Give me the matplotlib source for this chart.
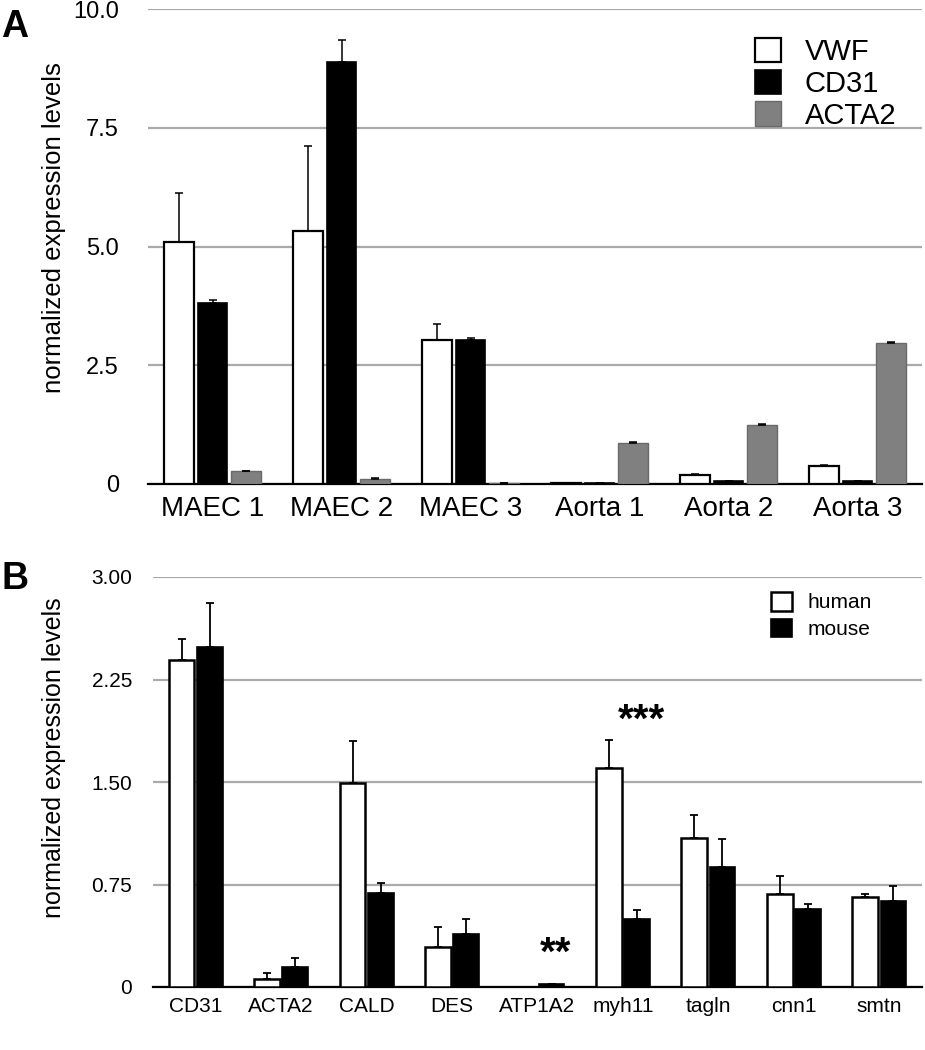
import numpy as np
import matplotlib
matplotlib.use("Agg")
import matplotlib.pyplot as plt

plt.rcParams['font.family'] = ['Liberation Sans', 'DejaVu Sans']

# ---- panel A data
samples_a = ['MAEC 1', 'MAEC 2', 'MAEC 3', 'Aorta 1', 'Aorta 2', 'Aorta 3']
vwf = [5.10, 5.32, 3.03, 0.02, 0.19, 0.38]
vwf_err = [1.04, 1.79, 0.35, 0.0, 0.03, 0.03]
cd31 = [3.82, 8.90, 3.03, 0.02, 0.07, 0.07]
cd31_err = [0.05, 0.45, 0.05, 0.0, 0.0, 0.0]
acta2 = [0.27, 0.10, 0.02, 0.87, 1.24, 2.97]
acta2_err = [0.0, 0.03, 0.0, 0.02, 0.03, 0.02]
yticks_a = [0, 2.5, 5.0, 7.5, 10.0]
yticklabels_a = ['0', '2.5', '5.0', '7.5', '10.0']

# ---- panel B data
genes_b = ['CD31', 'ACTA2', 'CALD', 'DES', 'ATP1A2', 'myh11', 'tagln', 'cnn1', 'smtn']
human = [2.39, 0.06, 1.49, 0.29, 0.0, 1.60, 1.09, 0.68, 0.66]
human_err = [0.16, 0.04, 0.31, 0.15, 0.0, 0.21, 0.17, 0.13, 0.02]
mouse = [2.49, 0.15, 0.69, 0.39, 0.02, 0.50, 0.88, 0.57, 0.63]
mouse_err = [0.32, 0.06, 0.07, 0.11, 0.005, 0.06, 0.20, 0.04, 0.11]
yticks_b = [0, 0.75, 1.50, 2.25, 3.00]
yticklabels_b = ['0', '0.75', '1.50', '2.25', '3.00']
stars = {4: '**', 5: '***'}   # gene index -> significance over mouse bar
star_y = {4: 0.24, 5: 1.95}

W, H = 925, 1050
fig = plt.figure(figsize=(W / 100, H / 100), dpi=100)


def style_axes(ax):
    for s in ['top', 'right', 'left']:
        ax.spines[s].set_visible(False)
    ax.spines['bottom'].set_linewidth(1.6)
    ax.yaxis.grid(True, color='#aaaaaa', linewidth=1.6)
    ax.set_axisbelow(True)
    ax.tick_params(axis='both', length=0)


def up_err(e):
    return [np.zeros(len(e)), e]


# ───────── Panel A
axA = fig.add_axes([148 / W, 1 - 484 / H, (922 - 148) / W, (484 - 9.3) / H])
style_axes(axA)
x = np.arange(len(samples_a))
bw, off = 0.23, 0.26
ekw = dict(ecolor='black', elinewidth=1.1, capsize=2.6, capthick=1.1)
axA.bar(x - off, vwf, bw, color='white', edgecolor='black', linewidth=1.6,
        yerr=up_err(vwf_err), error_kw=ekw, label='VWF', zorder=3)
axA.bar(x, cd31, bw, color='black', edgecolor='black', linewidth=1.2,
        yerr=up_err(cd31_err), error_kw=ekw, label='CD31', zorder=3)
axA.bar(x + off, acta2, bw, color='#808080', edgecolor='#6a6a6a', linewidth=1.0,
        yerr=up_err(acta2_err), error_kw=ekw, label='ACTA2', zorder=3)
axA.set_xlim(-0.5, len(samples_a) - 0.5)
axA.set_ylim(0, 10)
axA.set_yticks(yticks_a)
axA.set_yticklabels(yticklabels_a, fontsize=17)
axA.set_xticks(x)
axA.set_xticklabels(samples_a, fontsize=20)
axA.tick_params(axis='y', pad=21)
axA.tick_params(axis='x', pad=9)
axA.set_ylabel('normalized expression levels', fontsize=18.5)
axA.yaxis.set_label_coords((66 - 148) / (922 - 148), 0.54)
fig.legend(handles=axA.get_legend_handles_labels()[0], labels=['VWF', 'CD31', 'ACTA2'],
           loc='upper left', bbox_to_anchor=(755 / W, 1 - 38 / H), frameon=False,
           fontsize=21, handlelength=0.9, handleheight=0.9, handletextpad=0.8,
           labelspacing=0.12, borderpad=0, borderaxespad=0)
fig.text(1 / W, 1 - 37 / H, 'A', fontsize=27, fontweight='bold')

# ───────── Panel B
axB = fig.add_axes([153 / W, 1 - 987 / H, (922 - 153) / W, (987 - 577) / H])
style_axes(axB)
xb = np.arange(len(genes_b))
bw2, off2 = 0.30, 0.165
ekw2 = dict(ecolor='black', elinewidth=1.3, capsize=3.0, capthick=1.3)
axB.bar(xb - off2, human, bw2, color='white', edgecolor='black', linewidth=1.8,
        yerr=up_err(human_err), error_kw=ekw2, label='human', zorder=3)
axB.bar(xb + off2, mouse, bw2, color='black', edgecolor='black', linewidth=1.2,
        yerr=up_err(mouse_err), error_kw=ekw2, label='mouse', zorder=3)
for i, s in stars.items():
    axB.text(xb[i] + off2 + 0.05, star_y[i], s, ha='center', va='center',
             fontsize=29, fontweight='bold')
axB.set_xlim(-0.5, len(genes_b) - 0.5)
axB.set_ylim(0, 3)
axB.set_yticks(yticks_b)
axB.set_yticklabels(yticklabels_b, fontsize=15)
axB.set_xticks(xb)
axB.set_xticklabels(genes_b, fontsize=15)
axB.tick_params(axis='y', pad=15)
axB.tick_params(axis='x', pad=7)
axB.set_ylabel('normalized expression levels', fontsize=18)
axB.yaxis.set_label_coords((66 - 153) / (922 - 153), 0.56)
fig.legend(handles=axB.get_legend_handles_labels()[0], labels=['human', 'mouse'],
           loc='upper left', bbox_to_anchor=(771 / W, 1 - 592 / H), frameon=False,
           fontsize=15, handlelength=1.0, handleheight=1.0, handletextpad=0.75,
           labelspacing=0.3, borderpad=0, borderaxespad=0)
fig.text(1 / W, 1 - 589 / H, 'B', fontsize=27, fontweight='bold')

fig.savefig('out.png', dpi=100)
